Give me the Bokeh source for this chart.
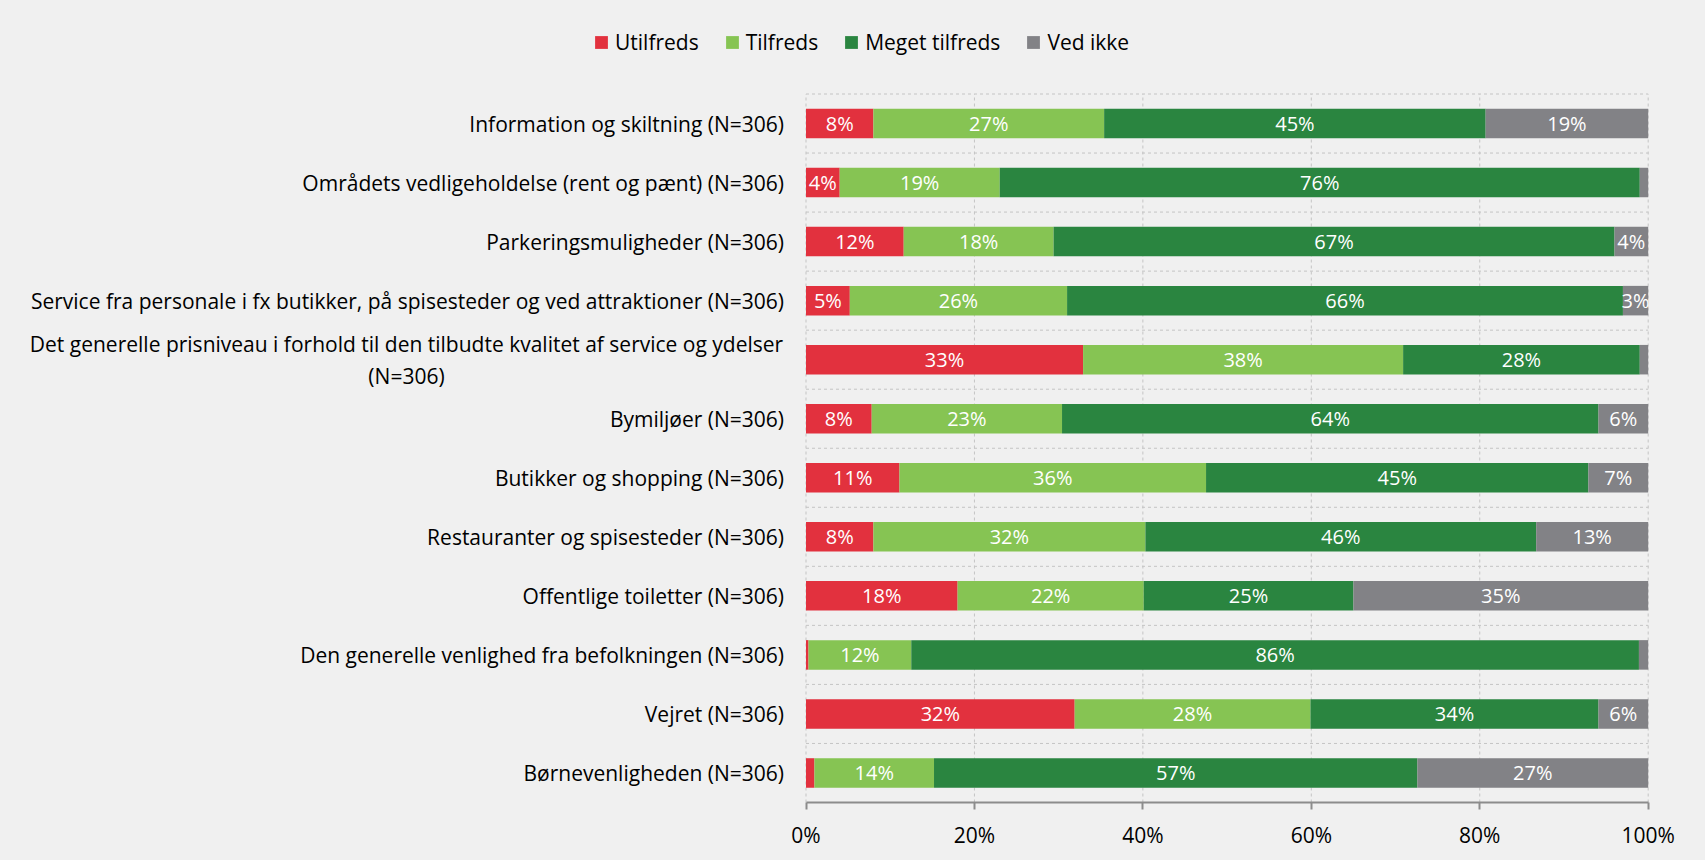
from bokeh.plotting import figure
from bokeh.models import ColumnDataSource, Range1d, FixedTicker, Legend, LegendItem
from bokeh.core.properties import value
from bokeh.embed import file_html
from bokeh.resources import INLINE

categories = [
    "Information og skiltning (N=306)",
    "Områdets vedligeholdelse (rent og pænt) (N=306)",
    "Parkeringsmuligheder (N=306)",
    "Service fra personale i fx butikker, på spisesteder og ved attraktioner (N=306)",
    "Det generelle prisniveau i forhold til den tilbudte kvalitet af service og ydelser\n(N=306)",
    "Bymiljøer (N=306)",
    "Butikker og shopping (N=306)",
    "Restauranter og spisesteder (N=306)",
    "Offentlige toiletter (N=306)",
    "Den generelle venlighed fra befolkningen (N=306)",
    "Vejret (N=306)",
    "Børnevenligheden (N=306)",
]
utilfreds = [8.0, 4.0, 11.6, 5.2, 32.9, 7.8, 11.1, 8.0, 18.0, 0.3, 31.9, 1.0]
tilfreds = [27.4, 19.0, 17.8, 25.8, 38.0, 22.6, 36.4, 32.3, 22.1, 12.2, 28.0, 14.2]
meget_tilfreds = [45.3, 76.0, 66.6, 66.0, 28.1, 63.7, 45.4, 46.4, 24.9, 86.4, 34.2, 57.4]
ved_ikke = [19.3, 1.0, 4.0, 3.0, 1.0, 5.9, 7.1, 13.3, 35.0, 1.1, 5.9, 27.4]

series_names = ["Utilfreds", "Tilfreds", "Meget tilfreds", "Ved ikke"]
series_keys = ["utilfreds", "tilfreds", "meget", "vedikke"]
colors = ["#E2313E", "#86C453", "#2A8540", "#828286"]
x_ticks = [0, 20, 40, 60, 80, 100]
x_tick_labels = ["0%", "20%", "40%", "60%", "80%", "100%"]

FONT = "Open Sans"
BG = "#F0F0F0"
GRID = "#C4C4C4"

# layout (pixels)
W, H = 1697, 852
BOTTOM = 50
PX0, PX100 = 805.5, 1647.7        # x pixel of 0% and 100%
ROW_TOP = 93.5                    # pixel of the top of the first row band
FRAME_H = H - BOTTOM

n = len(categories)
ys = [n - 1 - i + 0.5 for i in range(n)]

ppx = (PX100 - PX0) / 100.0
ppy = (FRAME_H - ROW_TOP) / n
x_start = -PX0 / ppx
x_end = 100 + (W - PX100) / ppx
y_end = n + ROW_TOP / ppy

source = ColumnDataSource(dict(
    y=ys, utilfreds=utilfreds, tilfreds=tilfreds, meget=meget_tilfreds, vedikke=ved_ikke,
))

p = figure(width=W, height=H, output_backend="svg", toolbar_location=None,
           x_range=Range1d(x_start, x_end), y_range=Range1d(0, y_end),
           y_axis_location=None)
p.background_fill_color = BG
p.border_fill_color = BG
p.outline_line_color = None
p.min_border_left = 0
p.min_border_right = 0
p.min_border_top = 0
p.min_border_bottom = BOTTOM
p.xgrid.visible = False
p.ygrid.visible = False

# dashed grid confined to the plotting band
p.segment(x0=[0] * n, x1=[100] * n, y0=list(range(1, n + 1)), y1=list(range(1, n + 1)),
          line_color=GRID, line_dash="3 3", line_width=1)
p.segment(x0=x_ticks, x1=x_ticks, y0=[0] * len(x_ticks), y1=[n] * len(x_ticks),
          line_color=GRID, line_dash="3 3", line_width=1)

renderers = p.hbar_stack(series_keys, y="y", height=0.5, color=colors, source=source,
                         line_color=None)

# value labels
lx, ly, lt = [], [], []
series_vals = [utilfreds, tilfreds, meget_tilfreds, ved_ikke]
for i in range(n):
    left = 0.0
    for vals in series_vals:
        v = vals[i]
        if v >= 2.5:
            lx.append(left + v / 2)
            ly.append(ys[i])
            lt.append(f"{v:.0f}%")
        left += v
p.text(x=lx, y=ly, text=lt, text_align="center", text_baseline="middle",
       text_color="white", text_font=value(FONT), text_font_size="20px")

# category labels
label_x = -22 / ppx
single = [(c, y) for c, y in zip(categories, ys) if "\n" not in c]
p.text(x=[label_x] * len(single), y=[y for _, y in single], text=[c for c, _ in single],
       text_align="right", text_baseline="middle", text_color="#000000",
       text_font=value(FONT), text_font_size="21px")
multi = [(c, y) for c, y in zip(categories, ys) if "\n" in c]
p.text(x=[(406 - PX0) / ppx] * len(multi), y=[y for _, y in multi], text=[c for c, _ in multi],
       text_align="center", text_baseline="middle", text_color="#000000",
       text_font=value(FONT), text_font_size="21px", text_line_height=1.15)

# x axis
p.xaxis.bounds = (0, 100)
p.xaxis.ticker = FixedTicker(ticks=x_ticks)
p.xaxis.major_label_overrides = {t: l for t, l in zip(x_ticks, x_tick_labels)}
p.xaxis.major_label_text_font = FONT
p.xaxis.major_label_text_font_size = "21px"
p.xaxis.major_label_text_color = "#000000"
p.xaxis.axis_line_color = "#8C8C8C"
p.xaxis.axis_line_width = 2
p.xaxis.major_tick_line_color = "#8C8C8C"
p.xaxis.major_tick_line_width = 2
p.xaxis.major_tick_out = 7
p.xaxis.major_tick_in = 0
p.xaxis.minor_tick_line_color = None
p.xaxis.major_label_standoff = 11

legend = Legend(
    items=[LegendItem(label=nm, renderers=[r]) for nm, r in zip(series_names, renderers)],
    orientation="horizontal", location=(593, FRAME_H - 56),
    background_fill_alpha=0, border_line_color=None,
    label_text_font=FONT, label_text_font_size="21px", label_text_color="#000000",
    glyph_width=16, glyph_height=16, label_standoff=6, spacing=25, padding=0, margin=0,
)
p.add_layout(legend, "center")

html = file_html(p, INLINE)
html = html.replace("</head>", "<style>html, body { background: #F0F0F0; }</style>\n</head>", 1)
open("out.html", "w").write(html)
